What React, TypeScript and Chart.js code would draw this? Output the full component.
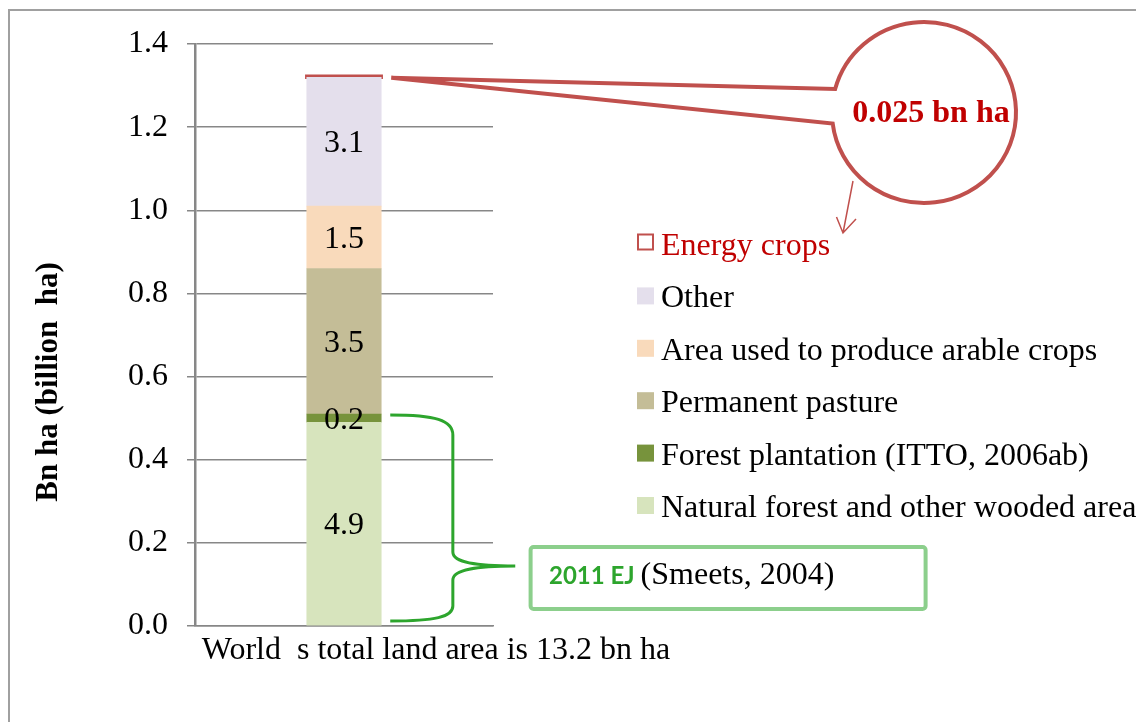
import React, { useEffect, useRef } from "react";
import { Chart, registerables } from "chart.js";

Chart.register(...registerables);

// ---------- data ----------
const categories = ["World\u2002s total land area is 13.2 bn ha"];
const seriesNames = [
  "Natural forest and other wooded area",
  "Forest plantation (ITTO, 2006ab)",
  "Permanent pasture",
  "Area used to produce arable crops",
  "Other",
  "Energy crops",
];
const naturalForest = [0.49];
const forestPlantation = [0.02];
const permanentPasture = [0.35];
const arableCrops = [0.15];
const otherLand = [0.31];
const energyCrops = [0.0025];
const segmentLabels = ["4.9", "0.2", "3.5", "1.5", "3.1", ""];
const yTickValues = [0, 0.2, 0.4, 0.6, 0.8, 1.0, 1.2, 1.4];
const yTitle = "Bn ha (billion  ha)";
const energyCalloutText = "0.025 bn ha";
const braceBoldText = "2011 EJ";
const braceRestText = "(Smeets, 2004)";

// ---------- styles ----------
const fillColors = ["#d7e4bd", "#77933c", "#c4bd97", "#f9dabb", "#e4dfec", "#c0504d"];
const SERIF = "'Liberation Serif', 'Times New Roman', serif";
const FS = 32;
const GRID = "#878787";

const overlayPlugin = {
  id: "overlay",
  afterDraw(chart: any) {
    const ctx = chart.ctx;
    const y = chart.scales.y;
    ctx.save();

    // frame
    ctx.strokeStyle = "#a0a0a0";
    ctx.lineWidth = 2;
    ctx.beginPath();
    ctx.moveTo(9, 722);
    ctx.lineTo(9, 10);
    ctx.lineTo(1136, 10);
    ctx.stroke();

    // y title
    ctx.save();
    ctx.translate(57, 382);
    ctx.rotate(-Math.PI / 2);
    ctx.font = `bold 31px ${SERIF}`;
    ctx.fillStyle = "#000";
    ctx.textAlign = "center";
    ctx.textBaseline = "alphabetic";
    ctx.fillText(yTitle, 0, 0);
    ctx.restore();

    // segment labels
    ctx.font = `${FS}px ${SERIF}`;
    ctx.fillStyle = "#000";
    ctx.textAlign = "center";
    ctx.textBaseline = "middle";
    chart.data.datasets.forEach((ds: any, i: number) => {
      const meta = chart.getDatasetMeta(i);
      meta.data.forEach((el: any) => {
        const t = segmentLabels[i];
        if (!t) return;
        ctx.fillText(t, el.x, (el.y + el.base) / 2 + 2);
      });
    });

    // legend (reverse order)
    const n = chart.data.datasets.length;
    for (let k = 0; k < n; k++) {
      const i = n - 1 - k;
      const ds = chart.data.datasets[i];
      const base = 255 + k * 52.4;
      if (i === n - 1) {
        ctx.strokeStyle = "#c0504d";
        ctx.lineWidth = 2;
        ctx.strokeRect(638, base - 20.5, 15, 15);
        ctx.fillStyle = "#c00000";
      } else {
        ctx.fillStyle = ds.backgroundColor;
        ctx.fillRect(637, base - 20, 17, 17);
        ctx.fillStyle = "#000";
      }
      ctx.font = `${FS}px ${SERIF}`;
      ctx.textAlign = "left";
      ctx.textBaseline = "alphabetic";
      ctx.fillText(ds.label, 661, base);
    }

    // energy crops callout
    const eMeta = chart.getDatasetMeta(n - 1).data[0];
    const tipX = eMeta.x + eMeta.width / 2 + 10;
    const tipY = eMeta.y + 1.5;
    const cx = 924, cy = 112.5, rx = 92, ry = 90.5;
    const aA = (-165 * Math.PI) / 180;
    const aB = (173 * Math.PI) / 180;
    ctx.strokeStyle = "#c0504d";
    ctx.lineWidth = 4;
    ctx.lineJoin = "miter";
    ctx.beginPath();
    ctx.moveTo(tipX, tipY);
    ctx.lineTo(cx + rx * Math.cos(aB), cy + ry * Math.sin(aB));
    ctx.ellipse(cx, cy, rx, ry, 0, aB, aA, true);
    ctx.closePath();
    ctx.stroke();

    // arrow
    ctx.lineWidth = 1.5;
    ctx.beginPath();
    ctx.moveTo(853, 181);
    ctx.lineTo(843, 233);
    ctx.moveTo(836.5, 217);
    ctx.lineTo(843, 233);
    ctx.lineTo(856, 219);
    ctx.stroke();

    ctx.font = `bold ${FS}px ${SERIF}`;
    ctx.fillStyle = "#c00000";
    ctx.textAlign = "center";
    ctx.textBaseline = "alphabetic";
    ctx.fillText(energyCalloutText, 931, 122);

    // green brace
    const m0 = chart.getDatasetMeta(0).data[0];
    const x0 = m0.x + m0.width / 2 + 9;
    const yTop = y.getPixelForValue(naturalForest[0] + forestPlantation[0]) + 1;
    const yBot = y.getPixelForValue(0) - 5;
    const xv = x0 + 62.6;
    const xt = x0 + 125;
    const yt = yBot - 55;
    ctx.strokeStyle = "#2da52d";
    ctx.lineWidth = 3;
    ctx.beginPath();
    ctx.moveTo(x0, yTop);
    ctx.bezierCurveTo(x0 + 45, yTop, xv, yTop + 5, xv, yTop + 20);
    ctx.lineTo(xv, yt - 14);
    ctx.bezierCurveTo(xv, yt - 3, xv + 25, yt, xt, yt);
    ctx.bezierCurveTo(xv + 25, yt, xv, yt + 3, xv, yt + 14);
    ctx.lineTo(xv, yBot - 15);
    ctx.bezierCurveTo(xv, yBot - 4, x0 + 45, yBot, x0, yBot);
    ctx.stroke();

    // green box
    ctx.strokeStyle = "#8ccf8c";
    ctx.lineWidth = 4;
    ctx.beginPath();
    ctx.roundRect(530.6, 547, 395, 62, 3);
    ctx.stroke();
    ctx.textAlign = "left";
    ctx.font = `bold 24px Lato, 'Open Sans', sans-serif`;
    ctx.fillStyle = "#2da52d";
    ctx.fillText(braceBoldText, 549, 584);
    const w1 = ctx.measureText(braceBoldText).width;
    ctx.font = `${FS}px ${SERIF}`;
    ctx.fillStyle = "#000";
    ctx.fillText(braceRestText, 549 + w1 + 6, 584);

    ctx.restore();
  },
};

export default function App() {
  const ref = useRef<HTMLCanvasElement | null>(null);
  useEffect(() => {
    if (!ref.current) return;
    const values = [naturalForest, forestPlantation, permanentPasture, arableCrops, otherLand, energyCrops];
    const chart = new Chart(ref.current, {
      type: "bar",
      data: {
        labels: categories,
        datasets: values.map((v, i) => ({
          label: seriesNames[i],
          data: v,
          backgroundColor: fillColors[i],
          borderWidth: 0,
          inflateAmount: i === values.length - 1 ? 1.7 : 0.3,
          barPercentage: 0.25,
          categoryPercentage: 1,
        })),
      },
      options: {
        responsive: false,
        animation: false,
        devicePixelRatio: 1,
        layout: { padding: { left: 0, right: 643, top: 44, bottom: 56 } },
        plugins: { legend: { display: false }, tooltip: { enabled: false } },
        scales: {
          x: {
            stacked: true,
            grid: { display: false, drawTicks: false },
            border: { display: true, color: GRID, width: 1.5 },
            ticks: {
              color: "#000",
              font: { family: SERIF, size: FS },
              padding: 5,
              labelOffset: 92,
              maxRotation: 0,
              minRotation: 0,
              autoSkip: false,
            },
            afterFit: (s: any) => {
              s.height = 40;
            },
          },
          y: {
            stacked: true,
            min: 0,
            max: 1.4,
            afterBuildTicks: (s: any) => {
              s.ticks = yTickValues.map((v) => ({ value: v }));
            },
            grid: { color: GRID, lineWidth: 1.5, drawTicks: true, tickLength: 8, tickColor: GRID },
            border: { display: true, color: GRID, width: 2.5 },
            ticks: {
              color: "#000",
              font: { family: SERIF, size: FS },
              padding: 19,
              callback: (v: any) => Number(v).toFixed(1),
            },
            afterFit: (s: any) => {
              s.width = 195;
            },
          },
        },
      },
      plugins: [overlayPlugin],
    });
    return () => chart.destroy();
  }, []);
  return (
    <div style={{ position: "fixed", left: 0, top: 0, width: 1136, height: 722, background: "#fff" }}>
      <canvas ref={ref} width={1136} height={722} style={{ display: "block" }} />
    </div>
  );
}
